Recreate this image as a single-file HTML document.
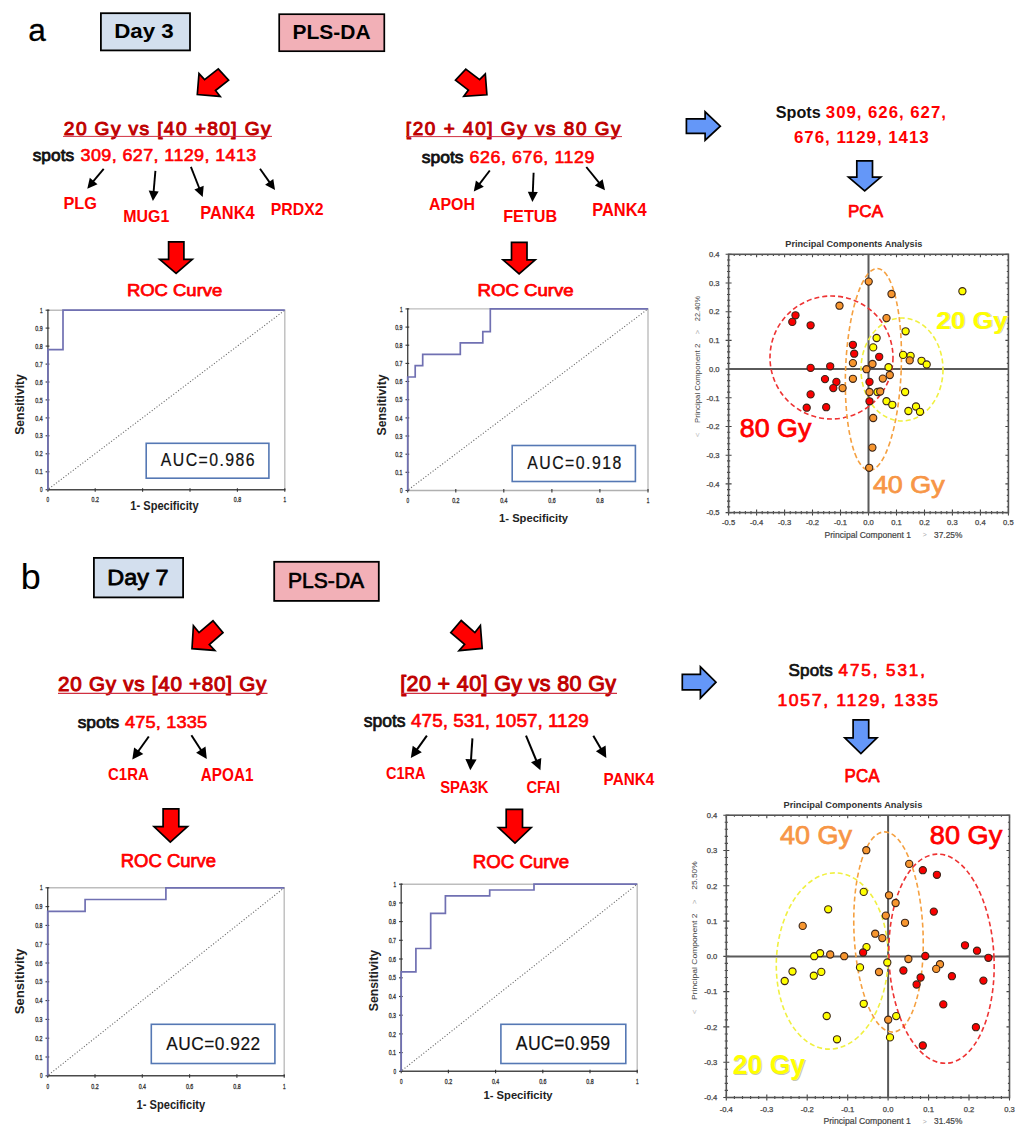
<!DOCTYPE html><html><head><meta charset="utf-8"><style>html,body{margin:0;padding:0;background:#fff;overflow:hidden}svg{display:block}text{font-family:"Liberation Sans",sans-serif}</style></head><body>
<svg width="1024" height="1136" viewBox="0 0 1024 1136">
<rect width="1024" height="1136" fill="#fff"/>
<text x="28.2" y="40.9" font-size="31.88" fill="#000" textLength="17.6" lengthAdjust="spacingAndGlyphs" stroke="#000" stroke-width="0.3" stroke-linejoin="round">a</text>
<rect x="100.9" y="13.2" width="89.1" height="37.2" fill="#d3dfee" stroke="#000" stroke-width="1.8"/>
<text x="114.2" y="37.5" font-size="21.08" font-weight="bold" fill="#000" textLength="59.6" lengthAdjust="spacingAndGlyphs">Day 3</text>
<rect x="279.2" y="14.2" width="105.1" height="37.0" fill="#f2b0b7" stroke="#000" stroke-width="1.7"/>
<text x="292.6" y="38.7" font-size="20.93" font-weight="bold" fill="#000" textLength="78.0" lengthAdjust="spacingAndGlyphs">PLS-DA</text>
<polygon points="197.3,94.5 199.0,73.6 204.6,79.6 218.3,68.9 228.6,80.2 215.5,90.5 220.2,96.4" fill="#ff0000" stroke="#000" stroke-width="1.7" stroke-linejoin="miter"/>
<polygon points="465.8,69.1 479.6,79.6 485.3,73.9 486.9,94.8 463.8,96.3 468.4,90.1 455.5,80.2" fill="#ff0000" stroke="#000" stroke-width="1.7" stroke-linejoin="miter"/>
<text transform="translate(63.84,135.00) scale(1.0,1)" x="0" y="0" font-size="19.19" fill="#c00000" letter-spacing="1.366" xml:space="preserve" stroke="#c00000" stroke-width="1.0" stroke-linejoin="round">20 Gy vs [40 +80] Gy</text>
<line x1="63" y1="136.4" x2="272" y2="136.4" stroke="#d03040" stroke-width="1"/>
<text transform="translate(405.86,135.00) scale(1.0,1)" x="0" y="0" font-size="18.90" fill="#c00000" letter-spacing="1.571" xml:space="preserve" stroke="#c00000" stroke-width="1.0" stroke-linejoin="round">[20 + 40] Gy vs 80 Gy</text>
<line x1="406" y1="136.6" x2="622" y2="136.6" stroke="#d03040" stroke-width="1"/>
<text transform="translate(32.71,161.30) scale(1.051605667501589,1)" x="0" y="0" font-size="16.48" fill="#111" letter-spacing="0.000" xml:space="preserve" stroke="#111" stroke-width="0.8" stroke-linejoin="round">spots</text>
<text transform="translate(80.62,161.30) scale(1.08,1)" x="0" y="0" font-size="16.62" fill="#ff0000" letter-spacing="0.366" xml:space="preserve" stroke="#ff0000" stroke-width="0.6" stroke-linejoin="round">309, 627, 1129, 1413</text>
<text transform="translate(421.81,163.10) scale(1.0713596114103003,1)" x="0" y="0" font-size="16.33" fill="#111" letter-spacing="0.000" xml:space="preserve" stroke="#111" stroke-width="0.8" stroke-linejoin="round">spots</text>
<text transform="translate(469.51,163.10) scale(1.08,1)" x="0" y="0" font-size="16.48" fill="#ff0000" letter-spacing="0.535" xml:space="preserve" stroke="#ff0000" stroke-width="0.6" stroke-linejoin="round">626, 676, 1129</text>
<line x1="103.7" y1="168.8" x2="93.0" y2="181.7" stroke="#000" stroke-width="1.9"/>
<polygon points="87.3,188.7 89.8,177.8 97.5,184.2" fill="#000"/>
<line x1="155.4" y1="170.9" x2="153.6" y2="192.0" stroke="#000" stroke-width="1.9"/>
<polygon points="152.9,201.0 148.7,190.6 158.7,191.4" fill="#000"/>
<line x1="190.9" y1="166.8" x2="199.4" y2="188.5" stroke="#000" stroke-width="1.9"/>
<polygon points="202.7,196.9 194.4,189.4 203.7,185.8" fill="#000"/>
<line x1="260.0" y1="168.8" x2="269.8" y2="182.6" stroke="#000" stroke-width="1.9"/>
<polygon points="275.0,190.0 265.1,184.7 273.3,178.9" fill="#000"/>
<text x="63.5" y="208.5" font-size="17.30" font-weight="bold" fill="#ff0000" textLength="33.5" lengthAdjust="spacingAndGlyphs">PLG</text>
<text x="123.2" y="221.5" font-size="16.86" font-weight="bold" fill="#ff0000" textLength="46.1" lengthAdjust="spacingAndGlyphs">MUG1</text>
<text x="200.2" y="219.3" font-size="17.44" font-weight="bold" fill="#ff0000" textLength="54.5" lengthAdjust="spacingAndGlyphs">PANK4</text>
<text x="270.7" y="214.7" font-size="16.72" font-weight="bold" fill="#ff0000" textLength="52.9" lengthAdjust="spacingAndGlyphs">PRDX2</text>
<line x1="489.8" y1="170.5" x2="479.2" y2="184.4" stroke="#000" stroke-width="1.9"/>
<polygon points="473.8,191.6 475.9,180.6 483.8,186.7" fill="#000"/>
<line x1="533.6" y1="172.8" x2="532.8" y2="192.9" stroke="#000" stroke-width="1.9"/>
<polygon points="532.4,201.9 527.8,191.7 537.8,192.1" fill="#000"/>
<line x1="586.3" y1="167.0" x2="599.4" y2="183.2" stroke="#000" stroke-width="1.9"/>
<polygon points="605.0,190.2 594.8,185.6 602.6,179.3" fill="#000"/>
<text x="428.9" y="210.3" font-size="16.42" font-weight="bold" fill="#ff0000" textLength="46.0" lengthAdjust="spacingAndGlyphs">APOH</text>
<text x="503.2" y="222.0" font-size="16.28" font-weight="bold" fill="#ff0000" textLength="54.1" lengthAdjust="spacingAndGlyphs">FETUB</text>
<text x="592.2" y="215.8" font-size="17.88" font-weight="bold" fill="#ff0000" textLength="54.5" lengthAdjust="spacingAndGlyphs">PANK4</text>
<polygon points="168.6,241.9 183.9,241.9 183.9,259.4 192.3,259.4 176.1,273.3 159.7,259.4 168.6,259.4" fill="#ff0000" stroke="#000" stroke-width="1.7" stroke-linejoin="miter"/>
<polygon points="511.5,242.3 527.0,242.3 527.0,259.9 535.2,259.9 519.1,273.9 503.0,259.9 511.5,259.9" fill="#ff0000" stroke="#000" stroke-width="1.7" stroke-linejoin="miter"/>
<text x="126.9" y="295.8" font-size="16.75" fill="#ff0000" textLength="95.4" lengthAdjust="spacingAndGlyphs" stroke="#ff0000" stroke-width="0.75" stroke-linejoin="round">ROC Curve</text>
<text x="477.5" y="296.3" font-size="16.32" fill="#ff0000" textLength="96.2" lengthAdjust="spacingAndGlyphs" stroke="#ff0000" stroke-width="0.75" stroke-linejoin="round">ROC Curve</text>
<polygon points="686.4,118.9 705.1,118.9 705.1,111.8 720.3,126.2 705.1,140.2 705.1,133.3 686.4,133.3" fill="#6497f8" stroke="#000" stroke-width="1.7" stroke-linejoin="miter"/>
<text transform="translate(775.73,118.10) scale(0.9925820829770142,1)" x="0" y="0" font-size="16.33" font-weight="bold" fill="#111" letter-spacing="0.000" xml:space="preserve">Spots</text>
<text transform="translate(825.81,118.10) scale(1.03,1)" x="0" y="0" font-size="16.33" font-weight="bold" fill="#ff0000" letter-spacing="0.944" xml:space="preserve">309, 626, 627,</text>
<text transform="translate(793.99,143.10) scale(1.03,1)" x="0" y="0" font-size="16.48" font-weight="bold" fill="#ff0000" letter-spacing="0.907" xml:space="preserve">676, 1129, 1413</text>
<polygon points="856.8,160.9 872.5,160.9 872.5,177.2 880.8,177.2 864.7,190.9 848.5,177.2 856.8,177.2" fill="#6497f8" stroke="#000" stroke-width="1.7" stroke-linejoin="miter"/>
<text x="848.0" y="216.9" font-size="17.33" fill="#ff0000" textLength="35.0" lengthAdjust="spacingAndGlyphs" stroke="#ff0000" stroke-width="0.75" stroke-linejoin="round">PCA</text>
<polyline points="47.9,310.2 284.8,310.2 284.8,489.7" fill="none" stroke="#bdbdbd" stroke-width="1.4"/>
<line x1="48.9" y1="488.7" x2="284.8" y2="310.2" stroke="#6a6a6a" stroke-width="1.1" stroke-dasharray="1.1 1.9"/>
<line x1="47.9" y1="489.7" x2="285.4" y2="489.7" stroke="#4a4a4a" stroke-width="1.4"/>
<line x1="47.9" y1="309.6" x2="47.9" y2="489.7" stroke="#4a4a4a" stroke-width="1.4"/>
<line x1="45.6" y1="489.7" x2="49.4" y2="489.7" stroke="#333" stroke-width="1.1"/>
<text x="42.6" y="492.3" font-size="7.2" fill="#3c3c3c" stroke="#3c3c3c" stroke-width="0.35" text-anchor="end" textLength="2.6" lengthAdjust="spacingAndGlyphs">0</text>
<line x1="45.6" y1="471.8" x2="49.4" y2="471.8" stroke="#333" stroke-width="1.1"/>
<text x="42.6" y="474.4" font-size="7.2" fill="#3c3c3c" stroke="#3c3c3c" stroke-width="0.35" text-anchor="end" textLength="7.3" lengthAdjust="spacingAndGlyphs">0.1</text>
<line x1="45.6" y1="453.8" x2="49.4" y2="453.8" stroke="#333" stroke-width="1.1"/>
<text x="42.6" y="456.4" font-size="7.2" fill="#3c3c3c" stroke="#3c3c3c" stroke-width="0.35" text-anchor="end" textLength="7.3" lengthAdjust="spacingAndGlyphs">0.2</text>
<line x1="45.6" y1="435.8" x2="49.4" y2="435.8" stroke="#333" stroke-width="1.1"/>
<text x="42.6" y="438.4" font-size="7.2" fill="#3c3c3c" stroke="#3c3c3c" stroke-width="0.35" text-anchor="end" textLength="7.3" lengthAdjust="spacingAndGlyphs">0.3</text>
<line x1="45.6" y1="417.9" x2="49.4" y2="417.9" stroke="#333" stroke-width="1.1"/>
<text x="42.6" y="420.5" font-size="7.2" fill="#3c3c3c" stroke="#3c3c3c" stroke-width="0.35" text-anchor="end" textLength="7.3" lengthAdjust="spacingAndGlyphs">0.4</text>
<line x1="45.6" y1="399.9" x2="49.4" y2="399.9" stroke="#333" stroke-width="1.1"/>
<text x="42.6" y="402.6" font-size="7.2" fill="#3c3c3c" stroke="#3c3c3c" stroke-width="0.35" text-anchor="end" textLength="7.3" lengthAdjust="spacingAndGlyphs">0.5</text>
<line x1="45.6" y1="382.0" x2="49.4" y2="382.0" stroke="#333" stroke-width="1.1"/>
<text x="42.6" y="384.6" font-size="7.2" fill="#3c3c3c" stroke="#3c3c3c" stroke-width="0.35" text-anchor="end" textLength="7.3" lengthAdjust="spacingAndGlyphs">0.6</text>
<line x1="45.6" y1="364.1" x2="49.4" y2="364.1" stroke="#333" stroke-width="1.1"/>
<text x="42.6" y="366.7" font-size="7.2" fill="#3c3c3c" stroke="#3c3c3c" stroke-width="0.35" text-anchor="end" textLength="7.3" lengthAdjust="spacingAndGlyphs">0.7</text>
<line x1="45.6" y1="346.1" x2="49.4" y2="346.1" stroke="#333" stroke-width="1.1"/>
<text x="42.6" y="348.7" font-size="7.2" fill="#3c3c3c" stroke="#3c3c3c" stroke-width="0.35" text-anchor="end" textLength="7.3" lengthAdjust="spacingAndGlyphs">0.8</text>
<line x1="45.6" y1="328.1" x2="49.4" y2="328.1" stroke="#333" stroke-width="1.1"/>
<text x="42.6" y="330.8" font-size="7.2" fill="#3c3c3c" stroke="#3c3c3c" stroke-width="0.35" text-anchor="end" textLength="7.3" lengthAdjust="spacingAndGlyphs">0.9</text>
<line x1="45.6" y1="310.2" x2="49.4" y2="310.2" stroke="#333" stroke-width="1.1"/>
<text x="42.6" y="312.8" font-size="7.2" fill="#3c3c3c" stroke="#3c3c3c" stroke-width="0.35" text-anchor="end" textLength="2.6" lengthAdjust="spacingAndGlyphs">1</text>
<line x1="47.9" y1="488.2" x2="47.9" y2="491.7" stroke="#333" stroke-width="1.1"/>
<text x="47.9" y="501.5" font-size="7.2" fill="#3c3c3c" stroke="#3c3c3c" stroke-width="0.35" text-anchor="middle" textLength="2.6" lengthAdjust="spacingAndGlyphs">0</text>
<line x1="95.2" y1="488.2" x2="95.2" y2="491.7" stroke="#333" stroke-width="1.1"/>
<text x="95.2" y="501.5" font-size="7.2" fill="#3c3c3c" stroke="#3c3c3c" stroke-width="0.35" text-anchor="middle" textLength="7.3" lengthAdjust="spacingAndGlyphs">0.2</text>
<line x1="142.6" y1="488.2" x2="142.6" y2="491.7" stroke="#333" stroke-width="1.1"/>
<line x1="190.0" y1="488.2" x2="190.0" y2="491.7" stroke="#333" stroke-width="1.1"/>
<line x1="237.4" y1="488.2" x2="237.4" y2="491.7" stroke="#333" stroke-width="1.1"/>
<text x="237.4" y="501.5" font-size="7.2" fill="#3c3c3c" stroke="#3c3c3c" stroke-width="0.35" text-anchor="middle" textLength="7.3" lengthAdjust="spacingAndGlyphs">0.8</text>
<line x1="284.8" y1="488.2" x2="284.8" y2="491.7" stroke="#333" stroke-width="1.1"/>
<text x="284.8" y="501.5" font-size="7.2" fill="#3c3c3c" stroke="#3c3c3c" stroke-width="0.35" text-anchor="middle" textLength="2.6" lengthAdjust="spacingAndGlyphs">1</text>
<polyline points="47.9,489.7 47.9,349.7 63.0,349.7 63.0,310.2 284.8,310.2" fill="none" stroke="#7070b2" stroke-width="1.7"/>
<rect x="146.2" y="443.3" width="122.7" height="34.9" fill="#fff" stroke="#5578b4" stroke-width="1.6"/>
<text transform="translate(160.87,466.00) scale(0.9,1)" x="0" y="0" font-size="17.59" fill="#111" letter-spacing="1.588" xml:space="preserve" stroke="#111" stroke-width="0.2" stroke-linejoin="round">AUC=0.986</text>
<text transform="translate(24.0,434.4) rotate(-90)" x="-0.4" y="0" font-size="13.23" font-weight="bold" fill="#222" textLength="60.6" lengthAdjust="spacingAndGlyphs">Sensitivity</text>
<text x="130.3" y="510.1" font-size="12.06" font-weight="bold" fill="#222" textLength="68.4" lengthAdjust="spacingAndGlyphs">1- Specificity</text>
<polyline points="407.7,308.9 648.0,308.9 648.0,490.5" fill="none" stroke="#bdbdbd" stroke-width="1.4"/>
<line x1="408.7" y1="489.5" x2="648.0" y2="308.9" stroke="#6a6a6a" stroke-width="1.1" stroke-dasharray="1.1 1.9"/>
<line x1="407.7" y1="490.5" x2="648.6" y2="490.5" stroke="#b0b0b0" stroke-width="1.4"/>
<line x1="407.7" y1="308.3" x2="407.7" y2="490.5" stroke="#4a4a4a" stroke-width="1.4"/>
<line x1="405.5" y1="490.5" x2="409.2" y2="490.5" stroke="#333" stroke-width="1.1"/>
<text x="402.5" y="493.1" font-size="7.2" fill="#3c3c3c" stroke="#3c3c3c" stroke-width="0.35" text-anchor="end" textLength="2.6" lengthAdjust="spacingAndGlyphs">0</text>
<line x1="405.5" y1="472.3" x2="409.2" y2="472.3" stroke="#333" stroke-width="1.1"/>
<text x="402.5" y="474.9" font-size="7.2" fill="#3c3c3c" stroke="#3c3c3c" stroke-width="0.35" text-anchor="end" textLength="7.3" lengthAdjust="spacingAndGlyphs">0.1</text>
<line x1="405.5" y1="454.2" x2="409.2" y2="454.2" stroke="#333" stroke-width="1.1"/>
<text x="402.5" y="456.8" font-size="7.2" fill="#3c3c3c" stroke="#3c3c3c" stroke-width="0.35" text-anchor="end" textLength="7.3" lengthAdjust="spacingAndGlyphs">0.2</text>
<line x1="405.5" y1="436.0" x2="409.2" y2="436.0" stroke="#333" stroke-width="1.1"/>
<text x="402.5" y="438.6" font-size="7.2" fill="#3c3c3c" stroke="#3c3c3c" stroke-width="0.35" text-anchor="end" textLength="7.3" lengthAdjust="spacingAndGlyphs">0.3</text>
<line x1="405.5" y1="417.9" x2="409.2" y2="417.9" stroke="#333" stroke-width="1.1"/>
<text x="402.5" y="420.5" font-size="7.2" fill="#3c3c3c" stroke="#3c3c3c" stroke-width="0.35" text-anchor="end" textLength="7.3" lengthAdjust="spacingAndGlyphs">0.4</text>
<line x1="405.5" y1="399.7" x2="409.2" y2="399.7" stroke="#333" stroke-width="1.1"/>
<text x="402.5" y="402.3" font-size="7.2" fill="#3c3c3c" stroke="#3c3c3c" stroke-width="0.35" text-anchor="end" textLength="7.3" lengthAdjust="spacingAndGlyphs">0.5</text>
<line x1="405.5" y1="381.5" x2="409.2" y2="381.5" stroke="#333" stroke-width="1.1"/>
<text x="402.5" y="384.1" font-size="7.2" fill="#3c3c3c" stroke="#3c3c3c" stroke-width="0.35" text-anchor="end" textLength="7.3" lengthAdjust="spacingAndGlyphs">0.6</text>
<line x1="405.5" y1="363.4" x2="409.2" y2="363.4" stroke="#333" stroke-width="1.1"/>
<text x="402.5" y="366.0" font-size="7.2" fill="#3c3c3c" stroke="#3c3c3c" stroke-width="0.35" text-anchor="end" textLength="7.3" lengthAdjust="spacingAndGlyphs">0.7</text>
<line x1="405.5" y1="345.2" x2="409.2" y2="345.2" stroke="#333" stroke-width="1.1"/>
<text x="402.5" y="347.8" font-size="7.2" fill="#3c3c3c" stroke="#3c3c3c" stroke-width="0.35" text-anchor="end" textLength="7.3" lengthAdjust="spacingAndGlyphs">0.8</text>
<line x1="405.5" y1="327.1" x2="409.2" y2="327.1" stroke="#333" stroke-width="1.1"/>
<text x="402.5" y="329.7" font-size="7.2" fill="#3c3c3c" stroke="#3c3c3c" stroke-width="0.35" text-anchor="end" textLength="7.3" lengthAdjust="spacingAndGlyphs">0.9</text>
<line x1="405.5" y1="308.9" x2="409.2" y2="308.9" stroke="#333" stroke-width="1.1"/>
<text x="402.5" y="311.5" font-size="7.2" fill="#3c3c3c" stroke="#3c3c3c" stroke-width="0.35" text-anchor="end" textLength="2.6" lengthAdjust="spacingAndGlyphs">1</text>
<line x1="407.7" y1="489.0" x2="407.7" y2="492.5" stroke="#333" stroke-width="1.1"/>
<text x="407.7" y="502.8" font-size="7.2" fill="#3c3c3c" stroke="#3c3c3c" stroke-width="0.35" text-anchor="middle" textLength="2.6" lengthAdjust="spacingAndGlyphs">0</text>
<line x1="455.8" y1="489.0" x2="455.8" y2="492.5" stroke="#333" stroke-width="1.1"/>
<text x="455.8" y="502.8" font-size="7.2" fill="#3c3c3c" stroke="#3c3c3c" stroke-width="0.35" text-anchor="middle" textLength="7.3" lengthAdjust="spacingAndGlyphs">0.2</text>
<line x1="503.8" y1="489.0" x2="503.8" y2="492.5" stroke="#333" stroke-width="1.1"/>
<text x="503.8" y="502.8" font-size="7.2" fill="#3c3c3c" stroke="#3c3c3c" stroke-width="0.35" text-anchor="middle" textLength="7.3" lengthAdjust="spacingAndGlyphs">0.4</text>
<line x1="551.9" y1="489.0" x2="551.9" y2="492.5" stroke="#333" stroke-width="1.1"/>
<text x="551.9" y="502.8" font-size="7.2" fill="#3c3c3c" stroke="#3c3c3c" stroke-width="0.35" text-anchor="middle" textLength="7.3" lengthAdjust="spacingAndGlyphs">0.6</text>
<line x1="599.9" y1="489.0" x2="599.9" y2="492.5" stroke="#333" stroke-width="1.1"/>
<text x="599.9" y="502.8" font-size="7.2" fill="#3c3c3c" stroke="#3c3c3c" stroke-width="0.35" text-anchor="middle" textLength="7.3" lengthAdjust="spacingAndGlyphs">0.8</text>
<line x1="648.0" y1="489.0" x2="648.0" y2="492.5" stroke="#333" stroke-width="1.1"/>
<text x="648.0" y="502.8" font-size="7.2" fill="#3c3c3c" stroke="#3c3c3c" stroke-width="0.35" text-anchor="middle" textLength="2.6" lengthAdjust="spacingAndGlyphs">1</text>
<polyline points="407.7,490.5 407.7,377.0 415.2,377.0 415.2,365.6 422.7,365.6 422.7,354.3 460.3,354.3 460.3,342.9 482.8,342.9 482.8,331.6 490.3,331.6 490.3,308.9 648.0,308.9" fill="none" stroke="#7070b2" stroke-width="1.7"/>
<rect x="512.2" y="445.5" width="123.2" height="36.0" fill="#fff" stroke="#5578b4" stroke-width="1.6"/>
<text transform="translate(527.17,468.70) scale(0.9,1)" x="0" y="0" font-size="17.59" fill="#111" letter-spacing="1.658" xml:space="preserve" stroke="#111" stroke-width="0.2" stroke-linejoin="round">AUC=0.918</text>
<text transform="translate(385.8,435.1) rotate(-90)" x="-0.4" y="0" font-size="13.37" font-weight="bold" fill="#222" textLength="61.0" lengthAdjust="spacingAndGlyphs">Sensitivity</text>
<text x="499.1" y="521.7" font-size="11.77" font-weight="bold" fill="#222" textLength="69.0" lengthAdjust="spacingAndGlyphs">1- Specificity</text>
<text x="785.3" y="247.2" font-size="9.16" font-weight="bold" fill="#333" textLength="137.0" lengthAdjust="spacingAndGlyphs">Principal Components Analysis</text>
<path d="M728.6,509.6V515.6M728.6,254.3V257.3M734.2,511.0V514.2M734.2,254.3V255.9M739.8,511.0V514.2M739.8,254.3V255.9M745.4,511.0V514.2M745.4,254.3V255.9M751.0,511.0V514.2M751.0,254.3V255.9M756.6,509.6V515.6M756.6,254.3V257.3M762.2,511.0V514.2M762.2,254.3V255.9M767.8,511.0V514.2M767.8,254.3V255.9M773.4,511.0V514.2M773.4,254.3V255.9M779.0,511.0V514.2M779.0,254.3V255.9M784.6,509.6V515.6M784.6,254.3V257.3M790.2,511.0V514.2M790.2,254.3V255.9M795.8,511.0V514.2M795.8,254.3V255.9M801.3,511.0V514.2M801.3,254.3V255.9M806.9,511.0V514.2M806.9,254.3V255.9M812.5,509.6V515.6M812.5,254.3V257.3M818.1,511.0V514.2M818.1,254.3V255.9M823.7,511.0V514.2M823.7,254.3V255.9M829.3,511.0V514.2M829.3,254.3V255.9M834.9,511.0V514.2M834.9,254.3V255.9M840.5,509.6V515.6M840.5,254.3V257.3M846.1,511.0V514.2M846.1,254.3V255.9M851.7,511.0V514.2M851.7,254.3V255.9M857.3,511.0V514.2M857.3,254.3V255.9M862.9,511.0V514.2M862.9,254.3V255.9M868.5,509.6V515.6M868.5,254.3V257.3M874.1,511.0V514.2M874.1,254.3V255.9M879.7,511.0V514.2M879.7,254.3V255.9M885.3,511.0V514.2M885.3,254.3V255.9M890.9,511.0V514.2M890.9,254.3V255.9M896.5,509.6V515.6M896.5,254.3V257.3M902.1,511.0V514.2M902.1,254.3V255.9M907.7,511.0V514.2M907.7,254.3V255.9M913.3,511.0V514.2M913.3,254.3V255.9M918.9,511.0V514.2M918.9,254.3V255.9M924.5,509.6V515.6M924.5,254.3V257.3M930.1,511.0V514.2M930.1,254.3V255.9M935.7,511.0V514.2M935.7,254.3V255.9M941.2,511.0V514.2M941.2,254.3V255.9M946.8,511.0V514.2M946.8,254.3V255.9M952.4,509.6V515.6M952.4,254.3V257.3M958.0,511.0V514.2M958.0,254.3V255.9M963.6,511.0V514.2M963.6,254.3V255.9M969.2,511.0V514.2M969.2,254.3V255.9M974.8,511.0V514.2M974.8,254.3V255.9M980.4,509.6V515.6M980.4,254.3V257.3M986.0,511.0V514.2M986.0,254.3V255.9M991.6,511.0V514.2M991.6,254.3V255.9M997.2,511.0V514.2M997.2,254.3V255.9M1002.8,511.0V514.2M1002.8,254.3V255.9M1008.4,509.6V515.6M1008.4,254.3V257.3M725.6,254.3H731.6M1005.4,254.3H1008.4M727.0,260.0H730.2M1006.8,260.0H1008.4M727.0,265.8H730.2M1006.8,265.8H1008.4M727.0,271.5H730.2M1006.8,271.5H1008.4M727.0,277.3H730.2M1006.8,277.3H1008.4M725.6,283.0H731.6M1005.4,283.0H1008.4M727.0,288.7H730.2M1006.8,288.7H1008.4M727.0,294.5H730.2M1006.8,294.5H1008.4M727.0,300.2H730.2M1006.8,300.2H1008.4M727.0,306.0H730.2M1006.8,306.0H1008.4M725.6,311.7H731.6M1005.4,311.7H1008.4M727.0,317.4H730.2M1006.8,317.4H1008.4M727.0,323.2H730.2M1006.8,323.2H1008.4M727.0,328.9H730.2M1006.8,328.9H1008.4M727.0,334.7H730.2M1006.8,334.7H1008.4M725.6,340.4H731.6M1005.4,340.4H1008.4M727.0,346.1H730.2M1006.8,346.1H1008.4M727.0,351.9H730.2M1006.8,351.9H1008.4M727.0,357.6H730.2M1006.8,357.6H1008.4M727.0,363.4H730.2M1006.8,363.4H1008.4M725.6,369.1H731.6M1005.4,369.1H1008.4M727.0,374.8H730.2M1006.8,374.8H1008.4M727.0,380.6H730.2M1006.8,380.6H1008.4M727.0,386.3H730.2M1006.8,386.3H1008.4M727.0,392.1H730.2M1006.8,392.1H1008.4M725.6,397.8H731.6M1005.4,397.8H1008.4M727.0,403.5H730.2M1006.8,403.5H1008.4M727.0,409.3H730.2M1006.8,409.3H1008.4M727.0,415.0H730.2M1006.8,415.0H1008.4M727.0,420.8H730.2M1006.8,420.8H1008.4M725.6,426.5H731.6M1005.4,426.5H1008.4M727.0,432.2H730.2M1006.8,432.2H1008.4M727.0,438.0H730.2M1006.8,438.0H1008.4M727.0,443.7H730.2M1006.8,443.7H1008.4M727.0,449.5H730.2M1006.8,449.5H1008.4M725.6,455.2H731.6M1005.4,455.2H1008.4M727.0,460.9H730.2M1006.8,460.9H1008.4M727.0,466.7H730.2M1006.8,466.7H1008.4M727.0,472.4H730.2M1006.8,472.4H1008.4M727.0,478.2H730.2M1006.8,478.2H1008.4M725.6,483.9H731.6M1005.4,483.9H1008.4M727.0,489.6H730.2M1006.8,489.6H1008.4M727.0,495.4H730.2M1006.8,495.4H1008.4M727.0,501.1H730.2M1006.8,501.1H1008.4M727.0,506.9H730.2M1006.8,506.9H1008.4M725.6,512.6H731.6M1005.4,512.6H1008.4" stroke="#444" stroke-width="1.1" fill="none"/>
<rect x="728.6" y="254.3" width="279.8" height="258.3" fill="none" stroke="#555" stroke-width="1.6"/>
<line x1="728.6" y1="369.1" x2="1008.4" y2="369.1" stroke="#5a5a5a" stroke-width="2"/>
<line x1="868.5" y1="254.3" x2="868.5" y2="512.6" stroke="#5a5a5a" stroke-width="2"/>
<text x="719.6" y="257.0" font-size="7.60" fill="#444" text-anchor="end" stroke="#444" stroke-width="0.25">0.4</text>
<text x="719.6" y="285.7" font-size="7.60" fill="#444" text-anchor="end" stroke="#444" stroke-width="0.25">0.3</text>
<text x="719.6" y="314.4" font-size="7.60" fill="#444" text-anchor="end" stroke="#444" stroke-width="0.25">0.2</text>
<text x="719.6" y="343.1" font-size="7.60" fill="#444" text-anchor="end" stroke="#444" stroke-width="0.25">0.1</text>
<text x="719.6" y="371.8" font-size="7.60" fill="#444" text-anchor="end" stroke="#444" stroke-width="0.25">0.0</text>
<text x="719.6" y="400.5" font-size="7.60" fill="#444" text-anchor="end" stroke="#444" stroke-width="0.25">-0.1</text>
<text x="719.6" y="429.2" font-size="7.60" fill="#444" text-anchor="end" stroke="#444" stroke-width="0.25">-0.2</text>
<text x="719.6" y="457.9" font-size="7.60" fill="#444" text-anchor="end" stroke="#444" stroke-width="0.25">-0.3</text>
<text x="719.6" y="486.6" font-size="7.60" fill="#444" text-anchor="end" stroke="#444" stroke-width="0.25">-0.4</text>
<text x="719.6" y="515.3" font-size="7.60" fill="#444" text-anchor="end" stroke="#444" stroke-width="0.25">-0.5</text>
<text x="728.6" y="524.6" font-size="7.60" fill="#444" text-anchor="middle" stroke="#444" stroke-width="0.25">-0.5</text>
<text x="756.6" y="524.6" font-size="7.60" fill="#444" text-anchor="middle" stroke="#444" stroke-width="0.25">-0.4</text>
<text x="784.6" y="524.6" font-size="7.60" fill="#444" text-anchor="middle" stroke="#444" stroke-width="0.25">-0.3</text>
<text x="812.5" y="524.6" font-size="7.60" fill="#444" text-anchor="middle" stroke="#444" stroke-width="0.25">-0.2</text>
<text x="840.5" y="524.6" font-size="7.60" fill="#444" text-anchor="middle" stroke="#444" stroke-width="0.25">-0.1</text>
<text x="868.5" y="524.6" font-size="7.60" fill="#444" text-anchor="middle" stroke="#444" stroke-width="0.25">0.0</text>
<text x="896.5" y="524.6" font-size="7.60" fill="#444" text-anchor="middle" stroke="#444" stroke-width="0.25">0.1</text>
<text x="924.5" y="524.6" font-size="7.60" fill="#444" text-anchor="middle" stroke="#444" stroke-width="0.25">0.2</text>
<text x="952.4" y="524.6" font-size="7.60" fill="#444" text-anchor="middle" stroke="#444" stroke-width="0.25">0.3</text>
<text x="980.4" y="524.6" font-size="7.60" fill="#444" text-anchor="middle" stroke="#444" stroke-width="0.25">0.4</text>
<text x="1008.4" y="524.6" font-size="7.60" fill="#444" text-anchor="middle" stroke="#444" stroke-width="0.25">0.5</text>
<text x="824.6" y="537.5" font-size="8.58" fill="#444" textLength="86.3" lengthAdjust="spacingAndGlyphs" stroke="#444" stroke-width="0.2">Principal Component 1</text>
<text x="922.7" y="536.9" font-size="7.64" fill="#aaa" textLength="4.0" lengthAdjust="spacingAndGlyphs">&gt;</text>
<text x="934.1" y="537.5" font-size="8.58" fill="#444" textLength="28.2" lengthAdjust="spacingAndGlyphs" stroke="#444" stroke-width="0.2">37.25%</text>
<text transform="translate(700.2,422.3) rotate(-90)" x="-0.6" y="0" font-size="7.70" fill="#444" textLength="79.2" lengthAdjust="spacingAndGlyphs">Principal Component 2</text>
<text transform="translate(699.6,334.6) rotate(-90)" x="0" y="0" font-size="7.8" fill="#aaa">&gt;</text>
<text transform="translate(700.2,320.8) rotate(-90)" x="-0.4" y="0" font-size="7.70" fill="#444" textLength="25.2" lengthAdjust="spacingAndGlyphs">22.40%</text>
<text transform="translate(699.6,437.3) rotate(-90)" x="0" y="0" font-size="7.8" fill="#bbb">&lt;</text>
<ellipse cx="831.5" cy="357.5" rx="61.5" ry="61.5" transform="rotate(0 831.5 357.5)" fill="none" stroke="#ee3333" stroke-width="1.6" stroke-dasharray="5 3"/>
<ellipse cx="873.4" cy="369.4" rx="27.8" ry="101.0" transform="rotate(2.3 873.4 369.4)" fill="none" stroke="#f5a040" stroke-width="1.6" stroke-dasharray="5 3"/>
<ellipse cx="902.0" cy="369.5" rx="41.0" ry="51.5" transform="rotate(0 902.0 369.5)" fill="none" stroke="#f0f040" stroke-width="1.6" stroke-dasharray="5 3"/>
<circle cx="868.7" cy="281.6" r="3.6" fill="#f7962f" stroke="#3a2418" stroke-width="1.1"/>
<circle cx="891.5" cy="294.0" r="3.6" fill="#f7962f" stroke="#3a2418" stroke-width="1.1"/>
<circle cx="839.5" cy="305.7" r="3.6" fill="#f7962f" stroke="#3a2418" stroke-width="1.1"/>
<circle cx="886.5" cy="318.1" r="3.6" fill="#f7962f" stroke="#3a2418" stroke-width="1.1"/>
<circle cx="852.9" cy="363.1" r="3.6" fill="#f7962f" stroke="#3a2418" stroke-width="1.1"/>
<circle cx="872.5" cy="364.0" r="3.6" fill="#f7962f" stroke="#3a2418" stroke-width="1.1"/>
<circle cx="866.5" cy="369.2" r="3.6" fill="#f7962f" stroke="#3a2418" stroke-width="1.1"/>
<circle cx="889.8" cy="375.0" r="3.6" fill="#f7962f" stroke="#3a2418" stroke-width="1.1"/>
<circle cx="852.9" cy="378.8" r="3.6" fill="#f7962f" stroke="#3a2418" stroke-width="1.1"/>
<circle cx="882.8" cy="378.6" r="3.6" fill="#f7962f" stroke="#3a2418" stroke-width="1.1"/>
<circle cx="842.6" cy="388.1" r="3.6" fill="#f7962f" stroke="#3a2418" stroke-width="1.1"/>
<circle cx="869.5" cy="392.0" r="3.6" fill="#f7962f" stroke="#3a2418" stroke-width="1.1"/>
<circle cx="873.2" cy="418.0" r="3.6" fill="#f7962f" stroke="#3a2418" stroke-width="1.1"/>
<circle cx="872.4" cy="447.6" r="3.6" fill="#f7962f" stroke="#3a2418" stroke-width="1.1"/>
<circle cx="869.2" cy="467.8" r="3.6" fill="#f7962f" stroke="#3a2418" stroke-width="1.1"/>
<circle cx="962.4" cy="291.2" r="3.6" fill="#ffff00" stroke="#3a2418" stroke-width="1.1"/>
<circle cx="905.6" cy="331.3" r="3.6" fill="#ffff00" stroke="#3a2418" stroke-width="1.1"/>
<circle cx="876.6" cy="338.0" r="3.6" fill="#ffff00" stroke="#3a2418" stroke-width="1.1"/>
<circle cx="873.2" cy="347.4" r="3.6" fill="#ffff00" stroke="#3a2418" stroke-width="1.1"/>
<circle cx="903.1" cy="354.9" r="3.6" fill="#ffff00" stroke="#3a2418" stroke-width="1.1"/>
<circle cx="910.6" cy="355.9" r="3.6" fill="#ffff00" stroke="#3a2418" stroke-width="1.1"/>
<circle cx="921.5" cy="360.8" r="3.6" fill="#ffff00" stroke="#3a2418" stroke-width="1.1"/>
<circle cx="926.7" cy="364.5" r="3.6" fill="#ffff00" stroke="#3a2418" stroke-width="1.1"/>
<circle cx="888.5" cy="367.2" r="3.6" fill="#ffff00" stroke="#3a2418" stroke-width="1.1"/>
<circle cx="877.5" cy="392.0" r="3.6" fill="#ffff00" stroke="#3a2418" stroke-width="1.1"/>
<circle cx="905.1" cy="392.0" r="3.6" fill="#ffff00" stroke="#3a2418" stroke-width="1.1"/>
<circle cx="886.5" cy="401.2" r="3.6" fill="#ffff00" stroke="#3a2418" stroke-width="1.1"/>
<circle cx="892.3" cy="404.8" r="3.6" fill="#ffff00" stroke="#3a2418" stroke-width="1.1"/>
<circle cx="908.4" cy="411.0" r="3.6" fill="#ffff00" stroke="#3a2418" stroke-width="1.1"/>
<circle cx="916.0" cy="406.5" r="3.6" fill="#ffff00" stroke="#3a2418" stroke-width="1.1"/>
<circle cx="920.0" cy="411.8" r="3.6" fill="#ffff00" stroke="#3a2418" stroke-width="1.1"/>
<circle cx="880.2" cy="391.5" r="3.6" fill="#f7962f" stroke="#3a2418" stroke-width="1.1"/>
<circle cx="909.7" cy="360.4" r="3.6" fill="#f7962f" stroke="#3a2418" stroke-width="1.1"/>
<circle cx="795.5" cy="315.3" r="3.6" fill="#fa0000" stroke="#3a2418" stroke-width="1.1"/>
<circle cx="792.3" cy="321.9" r="3.6" fill="#fa0000" stroke="#3a2418" stroke-width="1.1"/>
<circle cx="810.6" cy="325.3" r="3.6" fill="#fa0000" stroke="#3a2418" stroke-width="1.1"/>
<circle cx="852.9" cy="344.8" r="3.6" fill="#fa0000" stroke="#3a2418" stroke-width="1.1"/>
<circle cx="854.2" cy="353.7" r="3.6" fill="#fa0000" stroke="#3a2418" stroke-width="1.1"/>
<circle cx="810.6" cy="367.9" r="3.6" fill="#fa0000" stroke="#3a2418" stroke-width="1.1"/>
<circle cx="830.2" cy="366.3" r="3.6" fill="#fa0000" stroke="#3a2418" stroke-width="1.1"/>
<circle cx="879.2" cy="356.8" r="3.6" fill="#fa0000" stroke="#3a2418" stroke-width="1.1"/>
<circle cx="825.0" cy="379.1" r="3.6" fill="#fa0000" stroke="#3a2418" stroke-width="1.1"/>
<circle cx="836.4" cy="381.9" r="3.6" fill="#fa0000" stroke="#3a2418" stroke-width="1.1"/>
<circle cx="833.3" cy="388.1" r="3.6" fill="#fa0000" stroke="#3a2418" stroke-width="1.1"/>
<circle cx="810.6" cy="394.4" r="3.6" fill="#fa0000" stroke="#3a2418" stroke-width="1.1"/>
<circle cx="806.7" cy="407.7" r="3.6" fill="#fa0000" stroke="#3a2418" stroke-width="1.1"/>
<circle cx="826.2" cy="407.2" r="3.6" fill="#fa0000" stroke="#3a2418" stroke-width="1.1"/>
<circle cx="869.5" cy="381.9" r="3.6" fill="#fa0000" stroke="#3a2418" stroke-width="1.1"/>
<circle cx="869.5" cy="401.3" r="3.6" fill="#fa0000" stroke="#3a2418" stroke-width="1.1"/>
<text x="937.0" y="329.4" font-size="24.71" font-weight="bold" fill="#c8c8b0" textLength="71.5" lengthAdjust="spacingAndGlyphs">20 Gy</text>
<text x="936.1" y="328.5" font-size="24.71" font-weight="bold" fill="#ffff00" textLength="71.5" lengthAdjust="spacingAndGlyphs">20 Gy</text>
<text x="739.8" y="436.6" font-size="25.58" fill="#ff0000" textLength="71.6" lengthAdjust="spacingAndGlyphs" stroke="#ff0000" stroke-width="0.75">80 Gy</text>
<text x="872.9" y="493.0" font-size="23.98" fill="#f79646" textLength="71.8" lengthAdjust="spacingAndGlyphs" stroke="#f79646" stroke-width="0.75">40 Gy</text>
<text x="20.7" y="589.3" font-size="34.43" fill="#000" textLength="20.0" lengthAdjust="spacingAndGlyphs">b</text>
<rect x="93.9" y="557.9" width="89.2" height="39.5" fill="#d3dfee" stroke="#000" stroke-width="1.8"/>
<text x="107.3" y="585.2" font-size="22.82" fill="#000" textLength="61.2" lengthAdjust="spacingAndGlyphs" stroke="#000" stroke-width="0.8" stroke-linejoin="round">Day 7</text>
<rect x="274.2" y="561.8" width="104.6" height="39.1" fill="#f2b0b7" stroke="#000" stroke-width="1.8"/>
<text x="288.0" y="588.2" font-size="22.60" fill="#000" textLength="76.2" lengthAdjust="spacingAndGlyphs" stroke="#000" stroke-width="0.7" stroke-linejoin="round">PLS-DA</text>
<polygon points="192.0,648.7 193.4,625.8 199.0,632.6 213.0,620.8 223.0,632.6 209.3,644.6 214.8,650.4" fill="#ff0000" stroke="#000" stroke-width="1.7" stroke-linejoin="miter"/>
<polygon points="461.2,620.5 474.9,632.6 480.4,625.5 482.2,648.4 459.0,650.7 464.6,644.3 450.8,632.6" fill="#ff0000" stroke="#000" stroke-width="1.7" stroke-linejoin="miter"/>
<text transform="translate(58.07,691.20) scale(1.0,1)" x="0" y="0" font-size="20.64" fill="#c00000" letter-spacing="0.728" xml:space="preserve" stroke="#c00000" stroke-width="1.0" stroke-linejoin="round">20 Gy vs [40 +80] Gy</text>
<line x1="58" y1="693.4" x2="267.5" y2="693.4" stroke="#d03040" stroke-width="1.1"/>
<text transform="translate(400.27,691.20) scale(1.0,1)" x="0" y="0" font-size="21.51" fill="#c00000" letter-spacing="0.361" xml:space="preserve" stroke="#c00000" stroke-width="1.0" stroke-linejoin="round">[20 + 40] Gy vs 80 Gy</text>
<line x1="401" y1="693.4" x2="617" y2="693.4" stroke="#d03040" stroke-width="1.1"/>
<text transform="translate(77.69,727.70) scale(1.0327052857564512,1)" x="0" y="0" font-size="16.80" fill="#111" letter-spacing="0.000" xml:space="preserve" stroke="#111" stroke-width="0.75" stroke-linejoin="round">spots</text>
<text transform="translate(125.08,727.70) scale(1.08,1)" x="0" y="0" font-size="16.91" fill="#ff0000" letter-spacing="0.099" xml:space="preserve" stroke="#ff0000" stroke-width="0.6" stroke-linejoin="round">475, 1335</text>
<text transform="translate(363.78,727.30) scale(0.9763276542358124,1)" x="0" y="0" font-size="17.94" fill="#111" letter-spacing="0.000" xml:space="preserve" stroke="#111" stroke-width="0.75" stroke-linejoin="round">spots</text>
<text transform="translate(411.06,727.30) scale(1.0497368138360712,1)" x="0" y="0" font-size="18.05" fill="#ff0000" letter-spacing="0.000" xml:space="preserve" stroke="#ff0000" stroke-width="0.6" stroke-linejoin="round">475, 531, 1057, 1129</text>
<line x1="148.8" y1="736.5" x2="138.1" y2="751.5" stroke="#000" stroke-width="2.0"/>
<polygon points="132.3,759.6 134.1,747.4 143.3,753.9" fill="#000"/>
<line x1="191.4" y1="735.3" x2="201.3" y2="750.5" stroke="#000" stroke-width="2.0"/>
<polygon points="206.8,758.9 196.1,752.7 205.5,746.6" fill="#000"/>
<text x="108.0" y="780.2" font-size="17.01" font-weight="bold" fill="#ff0000" textLength="40.8" lengthAdjust="spacingAndGlyphs">C1RA</text>
<text x="200.8" y="781.0" font-size="18.17" font-weight="bold" fill="#ff0000" textLength="52.7" lengthAdjust="spacingAndGlyphs">APOA1</text>
<line x1="426.9" y1="735.7" x2="416.7" y2="749.8" stroke="#000" stroke-width="2.0"/>
<polygon points="410.8,757.9 412.7,745.7 421.8,752.3" fill="#000"/>
<line x1="472.4" y1="738.4" x2="471.0" y2="760.2" stroke="#000" stroke-width="2.0"/>
<polygon points="470.3,770.2 465.4,758.9 476.6,759.6" fill="#000"/>
<line x1="526.0" y1="735.7" x2="536.5" y2="761.0" stroke="#000" stroke-width="2.0"/>
<polygon points="540.4,770.2 531.0,762.2 541.3,757.9" fill="#000"/>
<line x1="593.3" y1="735.7" x2="601.2" y2="749.3" stroke="#000" stroke-width="2.0"/>
<polygon points="606.3,757.9 595.9,751.2 605.6,745.6" fill="#000"/>
<text x="386.0" y="778.7" font-size="16.28" font-weight="bold" fill="#ff0000" textLength="39.6" lengthAdjust="spacingAndGlyphs">C1RA</text>
<text x="440.2" y="793.1" font-size="16.42" font-weight="bold" fill="#ff0000" textLength="48.4" lengthAdjust="spacingAndGlyphs">SPA3K</text>
<text x="526.4" y="793.1" font-size="16.42" font-weight="bold" fill="#ff0000" textLength="33.8" lengthAdjust="spacingAndGlyphs">CFAI</text>
<text x="603.6" y="785.2" font-size="16.86" font-weight="bold" fill="#ff0000" textLength="50.7" lengthAdjust="spacingAndGlyphs">PANK4</text>
<polygon points="163.1,808.8 178.8,808.8 178.8,826.6 187.5,826.6 170.3,842.2 154.0,826.6 163.1,826.6" fill="#ff0000" stroke="#000" stroke-width="1.7" stroke-linejoin="miter"/>
<polygon points="506.2,809.4 522.5,809.4 522.5,827.5 531.2,827.5 515.0,843.1 498.4,827.5 506.2,827.5" fill="#ff0000" stroke="#000" stroke-width="1.7" stroke-linejoin="miter"/>
<text x="120.8" y="867.2" font-size="17.62" fill="#ff0000" textLength="95.3" lengthAdjust="spacingAndGlyphs" stroke="#ff0000" stroke-width="0.75" stroke-linejoin="round">ROC Curve</text>
<text x="472.8" y="868.1" font-size="18.93" fill="#ff0000" textLength="96.4" lengthAdjust="spacingAndGlyphs" stroke="#ff0000" stroke-width="0.75" stroke-linejoin="round">ROC Curve</text>
<polygon points="682.3,674.4 700.4,674.4 700.4,666.8 716.0,682.2 700.4,698.1 700.4,689.8 682.3,689.8" fill="#6497f8" stroke="#000" stroke-width="1.7" stroke-linejoin="miter"/>
<text transform="translate(788.58,675.70) scale(1.03,1)" x="0" y="0" font-size="16.55" fill="#111" letter-spacing="0.121" xml:space="preserve" stroke="#111" stroke-width="0.7" stroke-linejoin="round">Spots</text>
<text transform="translate(838.56,675.70) scale(1.03,1)" x="0" y="0" font-size="16.55" fill="#ff0000" letter-spacing="1.861" xml:space="preserve" stroke="#ff0000" stroke-width="0.7" stroke-linejoin="round">475, 531,</text>
<text transform="translate(777.41,706.00) scale(1.03,1)" x="0" y="0" font-size="17.12" fill="#ff0000" letter-spacing="1.612" xml:space="preserve" stroke="#ff0000" stroke-width="0.7" stroke-linejoin="round">1057, 1129, 1335</text>
<polygon points="853.1,719.9 868.7,719.9 868.7,737.9 877.0,737.9 860.9,753.6 844.8,737.9 853.1,737.9" fill="#6497f8" stroke="#000" stroke-width="1.7" stroke-linejoin="miter"/>
<text x="844.6" y="781.7" font-size="18.50" fill="#ff0000" textLength="34.9" lengthAdjust="spacingAndGlyphs" stroke="#ff0000" stroke-width="0.75" stroke-linejoin="round">PCA</text>
<polyline points="47.7,887.8 284.2,887.8 284.2,1075.8" fill="none" stroke="#bdbdbd" stroke-width="1.4"/>
<line x1="48.7" y1="1074.8" x2="284.2" y2="887.8" stroke="#6a6a6a" stroke-width="1.1" stroke-dasharray="1.1 1.9"/>
<line x1="47.7" y1="1075.8" x2="284.8" y2="1075.8" stroke="#4a4a4a" stroke-width="1.4"/>
<line x1="47.7" y1="887.2" x2="47.7" y2="1075.8" stroke="#4a4a4a" stroke-width="1.4"/>
<line x1="45.5" y1="1075.8" x2="49.2" y2="1075.8" stroke="#333" stroke-width="1.1"/>
<text x="42.5" y="1078.4" font-size="7.2" fill="#3c3c3c" stroke="#3c3c3c" stroke-width="0.35" text-anchor="end" textLength="2.6" lengthAdjust="spacingAndGlyphs">0</text>
<line x1="45.5" y1="1057.0" x2="49.2" y2="1057.0" stroke="#333" stroke-width="1.1"/>
<text x="42.5" y="1059.6" font-size="7.2" fill="#3c3c3c" stroke="#3c3c3c" stroke-width="0.35" text-anchor="end" textLength="7.3" lengthAdjust="spacingAndGlyphs">0.1</text>
<line x1="45.5" y1="1038.2" x2="49.2" y2="1038.2" stroke="#333" stroke-width="1.1"/>
<text x="42.5" y="1040.8" font-size="7.2" fill="#3c3c3c" stroke="#3c3c3c" stroke-width="0.35" text-anchor="end" textLength="7.3" lengthAdjust="spacingAndGlyphs">0.2</text>
<line x1="45.5" y1="1019.4" x2="49.2" y2="1019.4" stroke="#333" stroke-width="1.1"/>
<text x="42.5" y="1022.0" font-size="7.2" fill="#3c3c3c" stroke="#3c3c3c" stroke-width="0.35" text-anchor="end" textLength="7.3" lengthAdjust="spacingAndGlyphs">0.3</text>
<line x1="45.5" y1="1000.6" x2="49.2" y2="1000.6" stroke="#333" stroke-width="1.1"/>
<text x="42.5" y="1003.2" font-size="7.2" fill="#3c3c3c" stroke="#3c3c3c" stroke-width="0.35" text-anchor="end" textLength="7.3" lengthAdjust="spacingAndGlyphs">0.4</text>
<line x1="45.5" y1="981.8" x2="49.2" y2="981.8" stroke="#333" stroke-width="1.1"/>
<text x="42.5" y="984.4" font-size="7.2" fill="#3c3c3c" stroke="#3c3c3c" stroke-width="0.35" text-anchor="end" textLength="7.3" lengthAdjust="spacingAndGlyphs">0.5</text>
<line x1="45.5" y1="963.0" x2="49.2" y2="963.0" stroke="#333" stroke-width="1.1"/>
<text x="42.5" y="965.6" font-size="7.2" fill="#3c3c3c" stroke="#3c3c3c" stroke-width="0.35" text-anchor="end" textLength="7.3" lengthAdjust="spacingAndGlyphs">0.6</text>
<line x1="45.5" y1="944.2" x2="49.2" y2="944.2" stroke="#333" stroke-width="1.1"/>
<text x="42.5" y="946.8" font-size="7.2" fill="#3c3c3c" stroke="#3c3c3c" stroke-width="0.35" text-anchor="end" textLength="7.3" lengthAdjust="spacingAndGlyphs">0.7</text>
<line x1="45.5" y1="925.4" x2="49.2" y2="925.4" stroke="#333" stroke-width="1.1"/>
<text x="42.5" y="928.0" font-size="7.2" fill="#3c3c3c" stroke="#3c3c3c" stroke-width="0.35" text-anchor="end" textLength="7.3" lengthAdjust="spacingAndGlyphs">0.8</text>
<line x1="45.5" y1="906.6" x2="49.2" y2="906.6" stroke="#333" stroke-width="1.1"/>
<text x="42.5" y="909.2" font-size="7.2" fill="#3c3c3c" stroke="#3c3c3c" stroke-width="0.35" text-anchor="end" textLength="7.3" lengthAdjust="spacingAndGlyphs">0.9</text>
<line x1="45.5" y1="887.8" x2="49.2" y2="887.8" stroke="#333" stroke-width="1.1"/>
<text x="42.5" y="890.4" font-size="7.2" fill="#3c3c3c" stroke="#3c3c3c" stroke-width="0.35" text-anchor="end" textLength="2.6" lengthAdjust="spacingAndGlyphs">1</text>
<line x1="47.7" y1="1074.3" x2="47.7" y2="1077.8" stroke="#333" stroke-width="1.1"/>
<text x="47.7" y="1089.1" font-size="7.2" fill="#3c3c3c" stroke="#3c3c3c" stroke-width="0.35" text-anchor="middle" textLength="2.6" lengthAdjust="spacingAndGlyphs">0</text>
<line x1="95.0" y1="1074.3" x2="95.0" y2="1077.8" stroke="#333" stroke-width="1.1"/>
<text x="95.0" y="1089.1" font-size="7.2" fill="#3c3c3c" stroke="#3c3c3c" stroke-width="0.35" text-anchor="middle" textLength="7.3" lengthAdjust="spacingAndGlyphs">0.2</text>
<line x1="142.3" y1="1074.3" x2="142.3" y2="1077.8" stroke="#333" stroke-width="1.1"/>
<text x="142.3" y="1089.1" font-size="7.2" fill="#3c3c3c" stroke="#3c3c3c" stroke-width="0.35" text-anchor="middle" textLength="7.3" lengthAdjust="spacingAndGlyphs">0.4</text>
<line x1="189.6" y1="1074.3" x2="189.6" y2="1077.8" stroke="#333" stroke-width="1.1"/>
<text x="189.6" y="1089.1" font-size="7.2" fill="#3c3c3c" stroke="#3c3c3c" stroke-width="0.35" text-anchor="middle" textLength="7.3" lengthAdjust="spacingAndGlyphs">0.6</text>
<line x1="236.9" y1="1074.3" x2="236.9" y2="1077.8" stroke="#333" stroke-width="1.1"/>
<text x="236.9" y="1089.1" font-size="7.2" fill="#3c3c3c" stroke="#3c3c3c" stroke-width="0.35" text-anchor="middle" textLength="7.3" lengthAdjust="spacingAndGlyphs">0.8</text>
<line x1="284.2" y1="1074.3" x2="284.2" y2="1077.8" stroke="#333" stroke-width="1.1"/>
<text x="284.2" y="1089.1" font-size="7.2" fill="#3c3c3c" stroke="#3c3c3c" stroke-width="0.35" text-anchor="middle" textLength="2.6" lengthAdjust="spacingAndGlyphs">1</text>
<polyline points="47.7,1075.8 47.7,911.3 85.1,911.3 85.1,899.5 165.9,899.5 165.9,887.8 284.2,887.8" fill="none" stroke="#7070b2" stroke-width="1.7"/>
<rect x="151.3" y="1024.3" width="123.6" height="39.2" fill="#fff" stroke="#5578b4" stroke-width="1.6"/>
<text transform="translate(166.17,1050.00) scale(0.9,1)" x="0" y="0" font-size="19.19" fill="#111" letter-spacing="0.589" xml:space="preserve" stroke="#111" stroke-width="0.2" stroke-linejoin="round">AUC=0.922</text>
<text transform="translate(24.0,1013.9) rotate(-90)" x="-0.4" y="0" font-size="13.23" font-weight="bold" fill="#222" textLength="65.5" lengthAdjust="spacingAndGlyphs">Sensitivity</text>
<text x="136.6" y="1108.9" font-size="12.06" font-weight="bold" fill="#222" textLength="68.5" lengthAdjust="spacingAndGlyphs">1- Specificity</text>
<polyline points="401.2,884.2 637.2,884.2 637.2,1071.3" fill="none" stroke="#bdbdbd" stroke-width="1.4"/>
<line x1="402.2" y1="1070.3" x2="637.2" y2="884.2" stroke="#6a6a6a" stroke-width="1.1" stroke-dasharray="1.1 1.9"/>
<line x1="401.2" y1="1071.3" x2="637.8" y2="1071.3" stroke="#4a4a4a" stroke-width="1.4"/>
<line x1="401.2" y1="883.6" x2="401.2" y2="1071.3" stroke="#4a4a4a" stroke-width="1.4"/>
<line x1="399.0" y1="1071.3" x2="402.7" y2="1071.3" stroke="#333" stroke-width="1.1"/>
<text x="396.0" y="1073.9" font-size="7.2" fill="#3c3c3c" stroke="#3c3c3c" stroke-width="0.35" text-anchor="end" textLength="2.6" lengthAdjust="spacingAndGlyphs">0</text>
<line x1="399.0" y1="1052.6" x2="402.7" y2="1052.6" stroke="#333" stroke-width="1.1"/>
<text x="396.0" y="1055.2" font-size="7.2" fill="#3c3c3c" stroke="#3c3c3c" stroke-width="0.35" text-anchor="end" textLength="7.3" lengthAdjust="spacingAndGlyphs">0.1</text>
<line x1="399.0" y1="1033.9" x2="402.7" y2="1033.9" stroke="#333" stroke-width="1.1"/>
<text x="396.0" y="1036.5" font-size="7.2" fill="#3c3c3c" stroke="#3c3c3c" stroke-width="0.35" text-anchor="end" textLength="7.3" lengthAdjust="spacingAndGlyphs">0.2</text>
<line x1="399.0" y1="1015.2" x2="402.7" y2="1015.2" stroke="#333" stroke-width="1.1"/>
<text x="396.0" y="1017.8" font-size="7.2" fill="#3c3c3c" stroke="#3c3c3c" stroke-width="0.35" text-anchor="end" textLength="7.3" lengthAdjust="spacingAndGlyphs">0.3</text>
<line x1="399.0" y1="996.5" x2="402.7" y2="996.5" stroke="#333" stroke-width="1.1"/>
<text x="396.0" y="999.1" font-size="7.2" fill="#3c3c3c" stroke="#3c3c3c" stroke-width="0.35" text-anchor="end" textLength="7.3" lengthAdjust="spacingAndGlyphs">0.4</text>
<line x1="399.0" y1="977.8" x2="402.7" y2="977.8" stroke="#333" stroke-width="1.1"/>
<text x="396.0" y="980.4" font-size="7.2" fill="#3c3c3c" stroke="#3c3c3c" stroke-width="0.35" text-anchor="end" textLength="7.3" lengthAdjust="spacingAndGlyphs">0.5</text>
<line x1="399.0" y1="959.0" x2="402.7" y2="959.0" stroke="#333" stroke-width="1.1"/>
<text x="396.0" y="961.6" font-size="7.2" fill="#3c3c3c" stroke="#3c3c3c" stroke-width="0.35" text-anchor="end" textLength="7.3" lengthAdjust="spacingAndGlyphs">0.6</text>
<line x1="399.0" y1="940.3" x2="402.7" y2="940.3" stroke="#333" stroke-width="1.1"/>
<text x="396.0" y="942.9" font-size="7.2" fill="#3c3c3c" stroke="#3c3c3c" stroke-width="0.35" text-anchor="end" textLength="7.3" lengthAdjust="spacingAndGlyphs">0.7</text>
<line x1="399.0" y1="921.6" x2="402.7" y2="921.6" stroke="#333" stroke-width="1.1"/>
<text x="396.0" y="924.2" font-size="7.2" fill="#3c3c3c" stroke="#3c3c3c" stroke-width="0.35" text-anchor="end" textLength="7.3" lengthAdjust="spacingAndGlyphs">0.8</text>
<line x1="399.0" y1="902.9" x2="402.7" y2="902.9" stroke="#333" stroke-width="1.1"/>
<text x="396.0" y="905.5" font-size="7.2" fill="#3c3c3c" stroke="#3c3c3c" stroke-width="0.35" text-anchor="end" textLength="7.3" lengthAdjust="spacingAndGlyphs">0.9</text>
<line x1="399.0" y1="884.2" x2="402.7" y2="884.2" stroke="#333" stroke-width="1.1"/>
<text x="396.0" y="886.8" font-size="7.2" fill="#3c3c3c" stroke="#3c3c3c" stroke-width="0.35" text-anchor="end" textLength="2.6" lengthAdjust="spacingAndGlyphs">1</text>
<line x1="401.2" y1="1069.8" x2="401.2" y2="1073.3" stroke="#333" stroke-width="1.1"/>
<text x="401.2" y="1083.7" font-size="7.2" fill="#3c3c3c" stroke="#3c3c3c" stroke-width="0.35" text-anchor="middle" textLength="2.6" lengthAdjust="spacingAndGlyphs">0</text>
<line x1="448.4" y1="1069.8" x2="448.4" y2="1073.3" stroke="#333" stroke-width="1.1"/>
<text x="448.4" y="1083.7" font-size="7.2" fill="#3c3c3c" stroke="#3c3c3c" stroke-width="0.35" text-anchor="middle" textLength="7.3" lengthAdjust="spacingAndGlyphs">0.2</text>
<line x1="495.6" y1="1069.8" x2="495.6" y2="1073.3" stroke="#333" stroke-width="1.1"/>
<text x="495.6" y="1083.7" font-size="7.2" fill="#3c3c3c" stroke="#3c3c3c" stroke-width="0.35" text-anchor="middle" textLength="7.3" lengthAdjust="spacingAndGlyphs">0.4</text>
<line x1="542.8" y1="1069.8" x2="542.8" y2="1073.3" stroke="#333" stroke-width="1.1"/>
<text x="542.8" y="1083.7" font-size="7.2" fill="#3c3c3c" stroke="#3c3c3c" stroke-width="0.35" text-anchor="middle" textLength="7.3" lengthAdjust="spacingAndGlyphs">0.6</text>
<line x1="590.0" y1="1069.8" x2="590.0" y2="1073.3" stroke="#333" stroke-width="1.1"/>
<text x="590.0" y="1083.7" font-size="7.2" fill="#3c3c3c" stroke="#3c3c3c" stroke-width="0.35" text-anchor="middle" textLength="7.3" lengthAdjust="spacingAndGlyphs">0.8</text>
<line x1="637.2" y1="1069.8" x2="637.2" y2="1073.3" stroke="#333" stroke-width="1.1"/>
<text x="637.2" y="1083.7" font-size="7.2" fill="#3c3c3c" stroke="#3c3c3c" stroke-width="0.35" text-anchor="middle" textLength="2.6" lengthAdjust="spacingAndGlyphs">1</text>
<polyline points="401.2,1071.3 401.2,971.9 415.9,971.9 415.9,948.5 430.7,948.5 430.7,913.4 445.4,913.4 445.4,895.9 489.7,895.9 489.7,890.0 534.0,890.0 534.0,884.2 637.2,884.2" fill="none" stroke="#7070b2" stroke-width="1.7"/>
<rect x="500.9" y="1024.3" width="124.9" height="39.2" fill="#fff" stroke="#5578b4" stroke-width="1.6"/>
<text transform="translate(515.86,1050.30) scale(0.9,1)" x="0" y="0" font-size="19.62" fill="#111" letter-spacing="0.343" xml:space="preserve" stroke="#111" stroke-width="0.2" stroke-linejoin="round">AUC=0.959</text>
<text transform="translate(377.6,1010.8) rotate(-90)" x="-0.4" y="0" font-size="12.79" font-weight="bold" fill="#222" textLength="61.3" lengthAdjust="spacingAndGlyphs">Sensitivity</text>
<text x="483.5" y="1099.3" font-size="11.19" font-weight="bold" fill="#222" textLength="69.1" lengthAdjust="spacingAndGlyphs">1- Specificity</text>
<text x="783.5" y="807.5" font-size="9.16" font-weight="bold" fill="#333" textLength="138.8" lengthAdjust="spacingAndGlyphs">Principal Components Analysis</text>
<path d="M726.3,1094.5V1100.5M726.3,815.2V818.2M734.4,1095.9V1099.1M734.4,815.2V816.8M742.5,1095.9V1099.1M742.5,815.2V816.8M750.6,1095.9V1099.1M750.6,815.2V816.8M758.7,1095.9V1099.1M758.7,815.2V816.8M766.8,1094.5V1100.5M766.8,815.2V818.2M774.8,1095.9V1099.1M774.8,815.2V816.8M782.9,1095.9V1099.1M782.9,815.2V816.8M791.0,1095.9V1099.1M791.0,815.2V816.8M799.1,1095.9V1099.1M799.1,815.2V816.8M807.2,1094.5V1100.5M807.2,815.2V818.2M815.3,1095.9V1099.1M815.3,815.2V816.8M823.4,1095.9V1099.1M823.4,815.2V816.8M831.5,1095.9V1099.1M831.5,815.2V816.8M839.6,1095.9V1099.1M839.6,815.2V816.8M847.7,1094.5V1100.5M847.7,815.2V818.2M855.8,1095.9V1099.1M855.8,815.2V816.8M863.9,1095.9V1099.1M863.9,815.2V816.8M871.9,1095.9V1099.1M871.9,815.2V816.8M880.0,1095.9V1099.1M880.0,815.2V816.8M888.1,1094.5V1100.5M888.1,815.2V818.2M896.2,1095.9V1099.1M896.2,815.2V816.8M904.3,1095.9V1099.1M904.3,815.2V816.8M912.4,1095.9V1099.1M912.4,815.2V816.8M920.5,1095.9V1099.1M920.5,815.2V816.8M928.6,1094.5V1100.5M928.6,815.2V818.2M936.7,1095.9V1099.1M936.7,815.2V816.8M944.8,1095.9V1099.1M944.8,815.2V816.8M952.9,1095.9V1099.1M952.9,815.2V816.8M961.0,1095.9V1099.1M961.0,815.2V816.8M969.0,1094.5V1100.5M969.0,815.2V818.2M977.1,1095.9V1099.1M977.1,815.2V816.8M985.2,1095.9V1099.1M985.2,815.2V816.8M993.3,1095.9V1099.1M993.3,815.2V816.8M1001.4,1095.9V1099.1M1001.4,815.2V816.8M1009.5,1094.5V1100.5M1009.5,815.2V818.2M723.3,815.2H729.3M1006.5,815.2H1009.5M724.7,822.3H727.9M1007.9,822.3H1009.5M724.7,829.3H727.9M1007.9,829.3H1009.5M724.7,836.4H727.9M1007.9,836.4H1009.5M724.7,843.4H727.9M1007.9,843.4H1009.5M723.3,850.5H729.3M1006.5,850.5H1009.5M724.7,857.5H727.9M1007.9,857.5H1009.5M724.7,864.6H727.9M1007.9,864.6H1009.5M724.7,871.7H727.9M1007.9,871.7H1009.5M724.7,878.7H727.9M1007.9,878.7H1009.5M723.3,885.8H729.3M1006.5,885.8H1009.5M724.7,892.8H727.9M1007.9,892.8H1009.5M724.7,899.9H727.9M1007.9,899.9H1009.5M724.7,906.9H727.9M1007.9,906.9H1009.5M724.7,914.0H727.9M1007.9,914.0H1009.5M723.3,921.1H729.3M1006.5,921.1H1009.5M724.7,928.1H727.9M1007.9,928.1H1009.5M724.7,935.2H727.9M1007.9,935.2H1009.5M724.7,942.2H727.9M1007.9,942.2H1009.5M724.7,949.3H727.9M1007.9,949.3H1009.5M723.3,956.4H729.3M1006.5,956.4H1009.5M724.7,963.4H727.9M1007.9,963.4H1009.5M724.7,970.5H727.9M1007.9,970.5H1009.5M724.7,977.5H727.9M1007.9,977.5H1009.5M724.7,984.6H727.9M1007.9,984.6H1009.5M723.3,991.6H729.3M1006.5,991.6H1009.5M724.7,998.7H727.9M1007.9,998.7H1009.5M724.7,1005.8H727.9M1007.9,1005.8H1009.5M724.7,1012.8H727.9M1007.9,1012.8H1009.5M724.7,1019.9H727.9M1007.9,1019.9H1009.5M723.3,1026.9H729.3M1006.5,1026.9H1009.5M724.7,1034.0H727.9M1007.9,1034.0H1009.5M724.7,1041.0H727.9M1007.9,1041.0H1009.5M724.7,1048.1H727.9M1007.9,1048.1H1009.5M724.7,1055.2H727.9M1007.9,1055.2H1009.5M723.3,1062.2H729.3M1006.5,1062.2H1009.5M724.7,1069.3H727.9M1007.9,1069.3H1009.5M724.7,1076.3H727.9M1007.9,1076.3H1009.5M724.7,1083.4H727.9M1007.9,1083.4H1009.5M724.7,1090.4H727.9M1007.9,1090.4H1009.5M723.3,1097.5H729.3M1006.5,1097.5H1009.5" stroke="#444" stroke-width="1.1" fill="none"/>
<rect x="726.3" y="815.2" width="283.2" height="282.3" fill="none" stroke="#555" stroke-width="1.6"/>
<line x1="726.3" y1="956.4" x2="1009.5" y2="956.4" stroke="#5a5a5a" stroke-width="2"/>
<line x1="888.1" y1="815.2" x2="888.1" y2="1097.5" stroke="#5a5a5a" stroke-width="2"/>
<text x="717.3" y="817.9" font-size="7.60" fill="#444" text-anchor="end" stroke="#444" stroke-width="0.25">0.4</text>
<text x="717.3" y="853.2" font-size="7.60" fill="#444" text-anchor="end" stroke="#444" stroke-width="0.25">0.3</text>
<text x="717.3" y="888.5" font-size="7.60" fill="#444" text-anchor="end" stroke="#444" stroke-width="0.25">0.2</text>
<text x="717.3" y="923.8" font-size="7.60" fill="#444" text-anchor="end" stroke="#444" stroke-width="0.25">0.1</text>
<text x="717.3" y="959.1" font-size="7.60" fill="#444" text-anchor="end" stroke="#444" stroke-width="0.25">0.0</text>
<text x="717.3" y="994.3" font-size="7.60" fill="#444" text-anchor="end" stroke="#444" stroke-width="0.25">-0.1</text>
<text x="717.3" y="1029.6" font-size="7.60" fill="#444" text-anchor="end" stroke="#444" stroke-width="0.25">-0.2</text>
<text x="717.3" y="1064.9" font-size="7.60" fill="#444" text-anchor="end" stroke="#444" stroke-width="0.25">-0.3</text>
<text x="717.3" y="1100.2" font-size="7.60" fill="#444" text-anchor="end" stroke="#444" stroke-width="0.25">-0.4</text>
<text x="726.3" y="1111.5" font-size="7.60" fill="#444" text-anchor="middle" stroke="#444" stroke-width="0.25">-0.4</text>
<text x="766.8" y="1111.5" font-size="7.60" fill="#444" text-anchor="middle" stroke="#444" stroke-width="0.25">-0.3</text>
<text x="807.2" y="1111.5" font-size="7.60" fill="#444" text-anchor="middle" stroke="#444" stroke-width="0.25">-0.2</text>
<text x="847.7" y="1111.5" font-size="7.60" fill="#444" text-anchor="middle" stroke="#444" stroke-width="0.25">-0.1</text>
<text x="888.1" y="1111.5" font-size="7.60" fill="#444" text-anchor="middle" stroke="#444" stroke-width="0.25">0.0</text>
<text x="928.6" y="1111.5" font-size="7.60" fill="#444" text-anchor="middle" stroke="#444" stroke-width="0.25">0.1</text>
<text x="969.0" y="1111.5" font-size="7.60" fill="#444" text-anchor="middle" stroke="#444" stroke-width="0.25">0.2</text>
<text x="1009.5" y="1111.5" font-size="7.60" fill="#444" text-anchor="middle" stroke="#444" stroke-width="0.25">0.3</text>
<text x="823.4" y="1124.1" font-size="8.58" fill="#444" textLength="87.5" lengthAdjust="spacingAndGlyphs" stroke="#444" stroke-width="0.2">Principal Component 1</text>
<text x="922.7" y="1123.5" font-size="7.64" fill="#aaa" textLength="4.0" lengthAdjust="spacingAndGlyphs">&gt;</text>
<text x="934.1" y="1124.1" font-size="8.58" fill="#444" textLength="28.2" lengthAdjust="spacingAndGlyphs" stroke="#444" stroke-width="0.2">31.45%</text>
<text transform="translate(697.3,999.2) rotate(-90)" x="-0.7" y="0" font-size="7.70" fill="#444" textLength="86.5" lengthAdjust="spacingAndGlyphs">Principal Component 2</text>
<text transform="translate(696.7,904.3) rotate(-90)" x="0" y="0" font-size="7.8" fill="#aaa">&gt;</text>
<text transform="translate(697.3,889.3) rotate(-90)" x="-0.4" y="0" font-size="7.70" fill="#444" textLength="28.4" lengthAdjust="spacingAndGlyphs">25.50%</text>
<text transform="translate(696.7,1014.2) rotate(-90)" x="0" y="0" font-size="7.8" fill="#bbb">&lt;</text>
<ellipse cx="832.2" cy="961.0" rx="55.8" ry="88.2" transform="rotate(3 832.2 961.0)" fill="none" stroke="#f0f040" stroke-width="1.6" stroke-dasharray="5 3"/>
<ellipse cx="888.5" cy="932.0" rx="34.5" ry="100.2" transform="rotate(-2.5 888.5 932.0)" fill="none" stroke="#f5a040" stroke-width="1.6" stroke-dasharray="5 3"/>
<ellipse cx="941.5" cy="958.7" rx="52.5" ry="104.7" transform="rotate(-2.7 941.5 958.7)" fill="none" stroke="#ee3333" stroke-width="1.6" stroke-dasharray="5 3"/>
<circle cx="863.7" cy="891.9" r="3.6" fill="#ffff00" stroke="#3a2418" stroke-width="1.1"/>
<circle cx="828.2" cy="909.3" r="3.6" fill="#ffff00" stroke="#3a2418" stroke-width="1.1"/>
<circle cx="866.5" cy="947.1" r="3.6" fill="#ffff00" stroke="#3a2418" stroke-width="1.1"/>
<circle cx="820.1" cy="953.2" r="3.6" fill="#ffff00" stroke="#3a2418" stroke-width="1.1"/>
<circle cx="814.2" cy="956.2" r="3.6" fill="#ffff00" stroke="#3a2418" stroke-width="1.1"/>
<circle cx="792.5" cy="971.5" r="3.6" fill="#ffff00" stroke="#3a2418" stroke-width="1.1"/>
<circle cx="784.7" cy="981.0" r="3.6" fill="#ffff00" stroke="#3a2418" stroke-width="1.1"/>
<circle cx="813.8" cy="975.7" r="3.6" fill="#ffff00" stroke="#3a2418" stroke-width="1.1"/>
<circle cx="821.3" cy="971.9" r="3.6" fill="#ffff00" stroke="#3a2418" stroke-width="1.1"/>
<circle cx="860.0" cy="967.4" r="3.6" fill="#ffff00" stroke="#3a2418" stroke-width="1.1"/>
<circle cx="887.3" cy="962.5" r="3.6" fill="#ffff00" stroke="#3a2418" stroke-width="1.1"/>
<circle cx="863.7" cy="1003.8" r="3.6" fill="#ffff00" stroke="#3a2418" stroke-width="1.1"/>
<circle cx="826.7" cy="1016.0" r="3.6" fill="#ffff00" stroke="#3a2418" stroke-width="1.1"/>
<circle cx="837.0" cy="1039.3" r="3.6" fill="#ffff00" stroke="#3a2418" stroke-width="1.1"/>
<circle cx="896.2" cy="1016.1" r="3.6" fill="#ffff00" stroke="#3a2418" stroke-width="1.1"/>
<circle cx="890.0" cy="1037.4" r="3.6" fill="#ffff00" stroke="#3a2418" stroke-width="1.1"/>
<circle cx="866.3" cy="850.2" r="3.6" fill="#f7962f" stroke="#3a2418" stroke-width="1.1"/>
<circle cx="909.2" cy="863.9" r="3.6" fill="#f7962f" stroke="#3a2418" stroke-width="1.1"/>
<circle cx="802.7" cy="925.9" r="3.6" fill="#f7962f" stroke="#3a2418" stroke-width="1.1"/>
<circle cx="889.0" cy="895.3" r="3.6" fill="#f7962f" stroke="#3a2418" stroke-width="1.1"/>
<circle cx="895.6" cy="903.0" r="3.6" fill="#f7962f" stroke="#3a2418" stroke-width="1.1"/>
<circle cx="885.8" cy="915.6" r="3.6" fill="#f7962f" stroke="#3a2418" stroke-width="1.1"/>
<circle cx="905.0" cy="922.8" r="3.6" fill="#f7962f" stroke="#3a2418" stroke-width="1.1"/>
<circle cx="875.2" cy="933.7" r="3.6" fill="#f7962f" stroke="#3a2418" stroke-width="1.1"/>
<circle cx="882.3" cy="938.1" r="3.6" fill="#f7962f" stroke="#3a2418" stroke-width="1.1"/>
<circle cx="830.2" cy="954.5" r="3.6" fill="#f7962f" stroke="#3a2418" stroke-width="1.1"/>
<circle cx="844.2" cy="956.2" r="3.6" fill="#f7962f" stroke="#3a2418" stroke-width="1.1"/>
<circle cx="908.4" cy="959.0" r="3.6" fill="#f7962f" stroke="#3a2418" stroke-width="1.1"/>
<circle cx="940.0" cy="964.2" r="3.6" fill="#f7962f" stroke="#3a2418" stroke-width="1.1"/>
<circle cx="936.2" cy="968.9" r="3.6" fill="#f7962f" stroke="#3a2418" stroke-width="1.1"/>
<circle cx="879.0" cy="972.0" r="3.6" fill="#f7962f" stroke="#3a2418" stroke-width="1.1"/>
<circle cx="888.2" cy="1019.7" r="3.6" fill="#f7962f" stroke="#3a2418" stroke-width="1.1"/>
<circle cx="863.1" cy="952.5" r="3.6" fill="#fa0000" stroke="#3a2418" stroke-width="1.1"/>
<circle cx="922.8" cy="870.2" r="3.6" fill="#fa0000" stroke="#3a2418" stroke-width="1.1"/>
<circle cx="936.9" cy="874.8" r="3.6" fill="#fa0000" stroke="#3a2418" stroke-width="1.1"/>
<circle cx="933.8" cy="911.6" r="3.6" fill="#fa0000" stroke="#3a2418" stroke-width="1.1"/>
<circle cx="965.0" cy="945.3" r="3.6" fill="#fa0000" stroke="#3a2418" stroke-width="1.1"/>
<circle cx="977.0" cy="950.7" r="3.6" fill="#fa0000" stroke="#3a2418" stroke-width="1.1"/>
<circle cx="925.3" cy="956.0" r="3.6" fill="#fa0000" stroke="#3a2418" stroke-width="1.1"/>
<circle cx="988.4" cy="957.8" r="3.6" fill="#fa0000" stroke="#3a2418" stroke-width="1.1"/>
<circle cx="903.4" cy="970.5" r="3.6" fill="#fa0000" stroke="#3a2418" stroke-width="1.1"/>
<circle cx="920.6" cy="977.5" r="3.6" fill="#fa0000" stroke="#3a2418" stroke-width="1.1"/>
<circle cx="916.6" cy="984.5" r="3.6" fill="#fa0000" stroke="#3a2418" stroke-width="1.1"/>
<circle cx="951.9" cy="976.2" r="3.6" fill="#fa0000" stroke="#3a2418" stroke-width="1.1"/>
<circle cx="983.4" cy="980.6" r="3.6" fill="#fa0000" stroke="#3a2418" stroke-width="1.1"/>
<circle cx="943.3" cy="1004.4" r="3.6" fill="#fa0000" stroke="#3a2418" stroke-width="1.1"/>
<circle cx="975.9" cy="1027.2" r="3.6" fill="#fa0000" stroke="#3a2418" stroke-width="1.1"/>
<circle cx="922.8" cy="1045.5" r="3.6" fill="#fa0000" stroke="#3a2418" stroke-width="1.1"/>
<text x="780.0" y="844.2" font-size="26.45" fill="#f79646" textLength="72.1" lengthAdjust="spacingAndGlyphs" stroke="#f79646" stroke-width="0.75">40 Gy</text>
<text x="929.8" y="843.8" font-size="26.60" fill="#ff0000" textLength="72.4" lengthAdjust="spacingAndGlyphs" stroke="#ff0000" stroke-width="0.75">80 Gy</text>
<text x="733.6" y="1074.9" font-size="27.62" font-weight="bold" fill="#c8c8b0" textLength="72.4" lengthAdjust="spacingAndGlyphs">20 Gy</text>
<text x="732.7" y="1074.0" font-size="27.62" font-weight="bold" fill="#ffff00" textLength="72.4" lengthAdjust="spacingAndGlyphs">20 Gy</text>
</svg></body></html>
